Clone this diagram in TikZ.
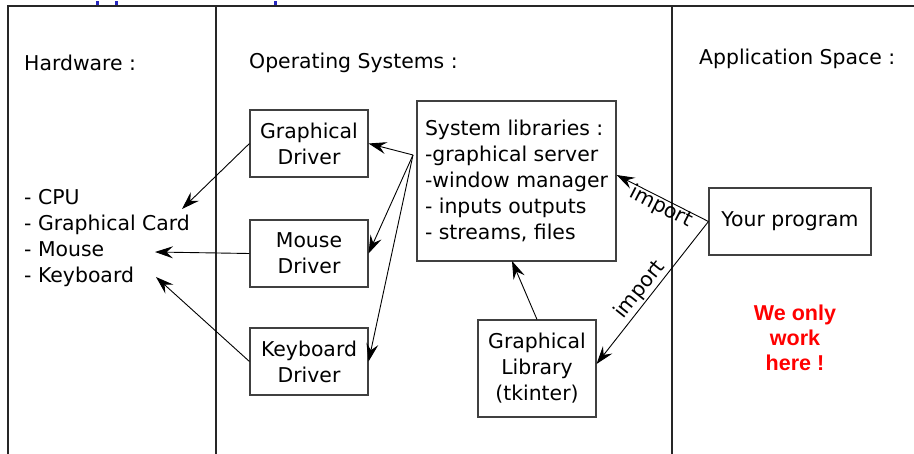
\documentclass[tikz,border=0pt]{standalone}
\usepackage{fontspec}
\setmainfont{DejaVu Sans}
\newfontfamily\notefont{Liberation Sans}
\usetikzlibrary{arrows.meta}
\tikzset{
  frameline/.style={line width=1.4pt, black!85},
  box/.style={draw=black!75, line width=1.1pt, inner sep=0pt, align=center,
    font=\fontsize{20.4}{26}\selectfont},
  lbl/.style={inner sep=0pt, font=\fontsize{20.4}{26}\selectfont},
  link/.style={line width=0.9pt, -{Stealth[length=18pt,width=12pt,inset=6.5pt]}},
}
\begin{document}
\begin{tikzpicture}[x=1pt,y=-1pt]
\useasboundingbox (0,0) rectangle (914,454);
% column frame
\draw[frameline] (8,454) -- (8,6) -- (914,6);
\draw[frameline] (216,6) -- (216,454);
\draw[frameline] (672,6) -- (672,454);
% descenders of the title line above the frame
\fill[blue!70!black!85] (96,1) rectangle (98.5,5);
\fill[blue!70!black!85] (115,1) rectangle (117.5,5);
\fill[blue!70!black!85] (274,1) rectangle (276.5,5);

% column headings
\node[lbl, anchor=west] (hw) at (24,63) {Hardware :};
\node[lbl, anchor=west] (os) at (249,63) {Operating Systems :};
\node[lbl, anchor=west] (app) at (699,59) {Application Space :};

% hardware list
\node[lbl, anchor=west, align=left] (hwlist) at (24,238)
  {- CPU\\- Graphical Card\\- Mouse\\- Keyboard};
\coordinate (cardtip) at (182,209);
\coordinate (mousetip) at (155,252);
\coordinate (keytip) at (156,277);

% drivers
\node[box, minimum width=118pt, minimum height=67pt] (gd) at (309,143.5) {Graphical\\Driver};
\node[box, minimum width=118pt, minimum height=67pt] (md) at (309,253.5) {Mouse\\Driver};
\node[box, minimum width=118pt, minimum height=67pt] (kd) at (309,361.5) {Keyboard\\Driver};

% system libraries
\node[box, align=left, minimum width=199pt, minimum height=160pt] (sys) at (516.5,181)
  {System libraries :\\-graphical server\\-window manager\\- inputs outputs\\- streams, files};
\coordinate (sysout) at (413,155);
\coordinate (sysin) at (512,261);

% graphical library
\node[box, minimum width=118pt, minimum height=97pt] (gl) at (537,368.5) {Graphical\\Library\\(tkinter)};

% user program
\node[box, minimum width=162pt, minimum height=67pt] (yp) at (790,221.5) {Your program};

% drivers talk to the hardware
\draw[link] (gd.west) -- (cardtip);
\draw[link] (md.west) -- (mousetip);
\draw[link] (kd.west) -- (keytip);

% system libraries drive the drivers
\draw[link] (sysout) -- (gd.east);
\draw[link] (sysout) -- (md.east);
\draw[link] (sysout) -- (kd.east);

% the graphical library relies on the system libraries
\draw[link] (gl.north) -- (sysin);

% imports from the program
\draw[link] (yp.west) -- (sys.east |- 0,175);
\draw[link] (yp.west) -- (gl.east |- 0,364);
\node[lbl, rotate=-27.3] (imp1) at (661,207) {import};
\node[lbl, rotate=51.5] (imp2) at (640,290) {import};

% note
\node[text=red, align=center, inner sep=0pt, font=\notefont\bfseries\fontsize{21.5}{25}\selectfont] (note) at (795,338)
  {We only\\work\\here !};
\end{tikzpicture}
\end{document}
